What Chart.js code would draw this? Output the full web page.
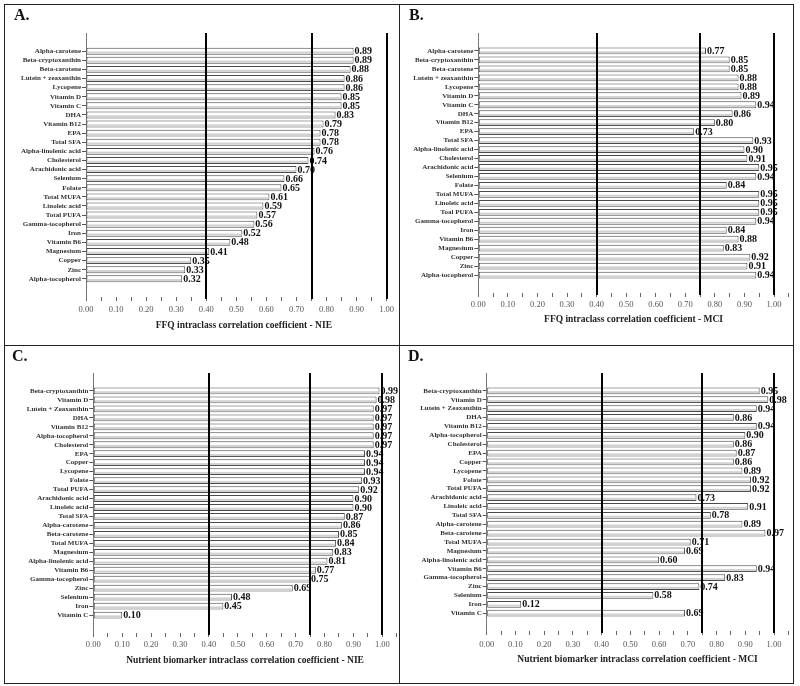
<!DOCTYPE html>
<html>
<head>
<meta charset="utf-8">
<script src="https://cdn.jsdelivr.net/npm/chart.js@4.4.0/dist/chart.umd.min.js"></script>
<style>
  body { margin: 0; background: #fff; }
  #fig { position: relative; width: 800px; height: 686px; }
  .panel { position: absolute; overflow: hidden; }
  .panel canvas { position: absolute; left: 0; top: 0; }
  .letter { position: absolute; font: bold 16px "Liberation Serif", serif; line-height: 16px; color: #111; }
  .frame { position: absolute; left: 4px; top: 4px; width: 788px; height: 678px; border: 1px solid #222; }
  .rule { position: absolute; background: #222; }
</style>
</head>
<body>
<div id="fig">
  <div class="panel" style="left:5px;top:5px;width:394px;height:340px"><canvas id="chartA"></canvas></div>
  <div class="panel" style="left:400px;top:5px;width:393px;height:340px"><canvas id="chartB"></canvas></div>
  <div class="panel" style="left:5px;top:346px;width:394px;height:337px"><canvas id="chartC"></canvas></div>
  <div class="panel" style="left:400px;top:346px;width:393px;height:337px"><canvas id="chartD"></canvas></div>
  <div class="frame"></div>
  <div class="rule" style="left:399px;top:4px;width:1px;height:680px"></div>
  <div class="rule" style="left:4px;top:345px;width:790px;height:1px"></div>
  <div class="letter" style="left:14px;top:7px">A.</div>
  <div class="letter" style="left:409px;top:7px">B.</div>
  <div class="letter" style="left:12px;top:348px">C.</div>
  <div class="letter" style="left:408px;top:348px">D.</div>
</div>
<script>
// ---- data ----
const labelsA = ["Alpha-carotene", "Beta-cryptoxanthin", "Beta-carotene", "Lutein + zeaxanthin", "Lycopene",
  "Vitamin D", "Vitamin C", "DHA", "Vitamin B12", "EPA", "Total SFA", "Alpha-linolenic acid", "Cholesterol",
  "Arachidonic acid", "Selenium", "Folate", "Total MUFA", "Linoleic acid", "Total PUFA", "Gamma-tocopherol",
  "Iron", "Vitamin B6", "Magnesium", "Copper", "Zinc", "Alpha-tocopherol"];
const valuesA = [0.89, 0.89, 0.88, 0.86, 0.86, 0.85, 0.85, 0.83, 0.79, 0.78, 0.78, 0.76, 0.74,
  0.70, 0.66, 0.65, 0.61, 0.59, 0.57, 0.56, 0.52, 0.48, 0.41, 0.35, 0.33, 0.32];

const labelsB = ["Alpha-carotene", "Beta-cryptoxanthin", "Beta-carotene", "Lutein + zeaxanthin", "Lycopene",
  "Vitamin D", "Vitamin C", "DHA", "Vitamin B12", "EPA", "Total SFA", "Alpha-linolenic acid", "Cholesterol",
  "Arachidonic acid", "Selenium", "Folate", "Total MUFA", "Linoleic acid", "Toal PUFA", "Gamma-tocopherol",
  "Iron", "Vitamin B6", "Magnesium", "Copper", "Zinc", "Alpha-tocopherol"];
const valuesB = [0.77, 0.85, 0.85, 0.88, 0.88, 0.89, 0.94, 0.86, 0.80, 0.73, 0.93, 0.90, 0.91,
  0.95, 0.94, 0.84, 0.95, 0.95, 0.95, 0.94, 0.84, 0.88, 0.83, 0.92, 0.91, 0.94];

const labelsCD = ["Beta-cryptoxanthin", "Vitamin D", "Lutein + Zeaxanthin", "DHA", "Vitamin B12",
  "Alpha-tocopherol", "Cholesterol", "EPA", "Copper", "Lycopene", "Folate", "Total PUFA", "Arachidonic acid",
  "Linoleic acid", "Total SFA", "Alpha-carotene", "Beta-carotene", "Total MUFA", "Magnesium",
  "Alpha-linolenic acid", "Vitamin B6", "Gamma-tocopherol", "Zinc", "Selenium", "Iron", "Vitamin C"];
const valuesC = [0.99, 0.98, 0.97, 0.97, 0.97, 0.97, 0.97, 0.94, 0.94, 0.94, 0.93, 0.92, 0.90,
  0.90, 0.87, 0.86, 0.85, 0.84, 0.83, 0.81, 0.77, 0.75, 0.69, 0.48, 0.45, 0.10];
const valuesD = [0.95, 0.98, 0.94, 0.86, 0.94, 0.90, 0.86, 0.87, 0.86, 0.89, 0.92, 0.92, 0.73,
  0.91, 0.78, 0.89, 0.97, 0.71, 0.69, 0.60, 0.94, 0.83, 0.74, 0.58, 0.12, 0.69];

const refLines = [0.40, 0.75, 1.00];
const serif = "Liberation Serif";

// gray lower band in each bar + the value printed at its end
function barDecor(values) {
  return {
    id: "barDecor",
    afterDatasetsDraw(chart) {
      const ctx = chart.ctx;
      const bars = chart.getDatasetMeta(0).data;
      ctx.save();
      bars.forEach((bar, i) => {
        const p = bar.getProps(["x", "y", "base", "height"], true);
        ctx.fillStyle = "#d2d2d2";
        ctx.fillRect(p.base + 1, p.y + 0.3, p.x - p.base - 2, p.height / 2 - 1.3);
        ctx.fillStyle = "#111";
        ctx.font = "bold 10px " + serif;
        ctx.textAlign = "left";
        ctx.textBaseline = "middle";
        ctx.fillText(values[i].toFixed(2), p.x + 1, p.y + 0.5);
      });
      ctx.restore();
    },
    afterDraw(chart) {
      const ctx = chart.ctx, area = chart.chartArea, xs = chart.scales.x;
      ctx.save();
      ctx.strokeStyle = "#000";
      ctx.lineWidth = 2;
      refLines.forEach(v => {
        const x = Math.round(xs.getPixelForValue(v));
        ctx.beginPath();
        ctx.moveTo(x, area.top);
        ctx.lineTo(x, area.bottom + 2);
        ctx.stroke();
      });
      ctx.restore();
    }
  };
}

// g: pixel geometry of the panel (relative to the panel box)
function drawPanel(id, labels, values, title, g) {
  const el = document.getElementById(id);
  el.width = g.cw;
  el.height = g.ch;
  new Chart(el, {
    type: "bar",
    data: {
      datasets: [{
        data: values.map((v, i) => ({ x: v, y: i })),
        backgroundColor: "#fff",
        borderColor: "#4a4a4a",
        borderWidth: 1,
        borderSkipped: false,
        categoryPercentage: 1,
        barPercentage: 0.76
      }]
    },
    options: {
      indexAxis: "y",
      responsive: false,
      animation: false,
      devicePixelRatio: 1,
      layout: { padding: { left: 0, top: g.top, right: g.cw - g.right, bottom: 0 } },
      plugins: { legend: { display: false }, tooltip: { enabled: false } },
      scales: {
        x: {
          type: "linear",
          min: 0,
          max: 1.05,
          afterFit: a => { a.height = g.ch - g.bottom; },
          border: { display: false },
          grid: { drawOnChartArea: false, tickLength: 4, color: "#666" },
          ticks: {
            stepSize: 0.05,
            autoSkip: false,
            maxRotation: 0,
            padding: g.tickPad,
            color: "#555",
            font: { family: serif, size: 8.5 },
            callback: v => (Math.round(v * 100) % 10 === 0 ? v.toFixed(2) : "")
          },
          title: {
            display: true,
            text: title,
            color: "#222",
            font: { family: serif, size: 9.5, weight: "bold" },
            padding: { top: 0, bottom: g.titlePad }
          }
        },
        y: {
          type: "linear",
          reverse: true,
          offset: false,
          min: -2,
          max: 27,
          afterFit: a => { a.width = g.left; },
          afterBuildTicks: a => { a.ticks = labels.map((_, i) => ({ value: i })); },
          border: { color: "#777" },
          grid: { drawOnChartArea: false, offset: false, tickLength: 4, color: "#555" },
          ticks: {
            autoSkip: false,
            padding: 1,
            color: "#333",
            font: { family: serif, size: 7, weight: "bold" },
            callback: v => labels[v]
          }
        }
      }
    },
    plugins: [barDecor(values)]
  });
}

drawPanel("chartA", labelsA, valuesA, "FFQ intraclass correlation coefficient - NIE",
  { cw: 410, ch: 340, left: 81, right: 396.7, top: 28, bottom: 292, tickPad: 4, titlePad: 14 });
drawPanel("chartB", labelsB, valuesB, "FFQ intraclass correlation coefficient - MCI",
  { cw: 410, ch: 340, left: 78.3, right: 388.8, top: 28, bottom: 288, tickPad: 3, titlePad: 20 });
drawPanel("chartC", labelsCD, valuesC, "Nutrient biomarker intraclass correlation coefficient - NIE",
  { cw: 410, ch: 337, left: 88.3, right: 391.8, top: 27, bottom: 287, tickPad: 3, titlePad: 17 });
drawPanel("chartD", labelsCD, valuesD, "Nutrient biomarker intraclass correlation coefficient - MCI",
  { cw: 410, ch: 337, left: 86.7, right: 388.4, top: 27, bottom: 285, tickPad: 5, titlePad: 18 });
</script>
</body>
</html>
